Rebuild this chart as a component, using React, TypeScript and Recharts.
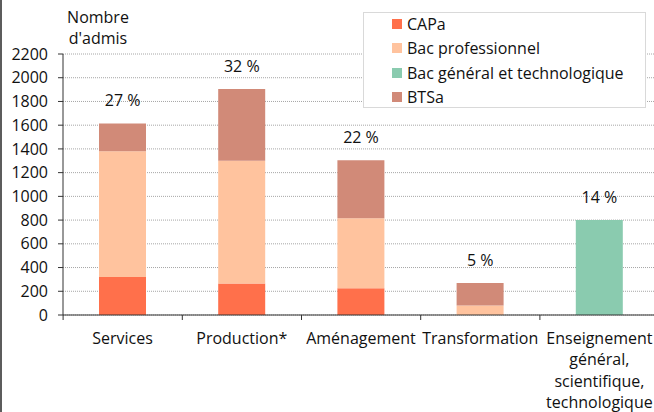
import {
  Bar,
  CartesianGrid,
  ComposedChart,
  LabelList,
  Line,
  XAxis,
  YAxis,
} from "recharts";

// Admis par secteur et par diplôme
const categories = [
  "Services",
  "Production*",
  "Aménagement",
  "Transformation",
  "Enseignement\ngénéral,\nscientifique,\ntechnologique",
];
const capa = [320, 265, 225, 0, 0];
const bacPro = [1060, 1035, 590, 80, 0];
const bacGen = [0, 0, 0, 0, 800];
const btsa = [235, 605, 490, 190, 0];
const shares = ["27 %", "32 %", "22 %", "5 %", "14 %"];
const yTicks = [0, 200, 400, 600, 800, 1000, 1200, 1400, 1600, 1800, 2000, 2200];

const series = [
  { key: "capa", name: "CAPa", color: "#ff704b" },
  { key: "bacPro", name: "Bac professionnel", color: "#ffc39e" },
  { key: "bacGen", name: "Bac général et technologique", color: "#8acbaf" },
  { key: "btsa", name: "BTSa", color: "#d18a78" },
];

const FONT = "'Open Sans', sans-serif";
const FS = 16;
const HALF_BAND = 59.5;

const data = categories.map((name, i) => ({
  name,
  capa: capa[i],
  bacPro: bacPro[i],
  bacGen: bacGen[i],
  btsa: btsa[i],
  total: capa[i] + bacPro[i] + bacGen[i] + btsa[i],
  share: shares[i],
}));

function CategoryTick({ x, y, payload, index }: any) {
  const lines = String(payload.value).split("\n");
  return (
    <g>
      <line x1={x - HALF_BAND} x2={x - HALF_BAND} y1={y - 8} y2={y - 3} stroke="#333" />
      {index === categories.length - 1 && (
        <line x1={x + HALF_BAND} x2={x + HALF_BAND} y1={y - 8} y2={y - 3} stroke="#333" />
      )}
      <text x={x} y={y} textAnchor="middle" fontFamily={FONT} fontSize={FS} fill="#111">
        {lines.map((l, k) => (
          <tspan key={k} x={x} dy={k === 0 ? 21 : 21.3}>
            {l}
          </tspan>
        ))}
      </text>
    </g>
  );
}

function LegendBox() {
  return (
    <div
      style={{
        position: "absolute",
        left: 363,
        top: 12,
        width: 281,
        height: 94,
        background: "#fff",
        border: "1px solid #d9d9d9",
        fontFamily: FONT,
        fontSize: FS,
        color: "#111",
      }}
    >
      <div style={{ position: "relative", top: -1 }}>
        {series.map((s) => (
          <div key={s.key} style={{ display: "flex", alignItems: "center", height: 24.3, paddingLeft: 28 }}>
            <span style={{ width: 10, height: 10, background: s.color, marginRight: 5, display: "inline-block" }} />
            <span>{s.name}</span>
          </div>
        ))}
      </div>
    </div>
  );
}

export default function App() {
  return (
    <div
      style={{
        position: "absolute",
        left: 0,
        top: 0,
        width: 654,
        height: 412,
        overflow: "hidden",
        background: "#fff",
      }}
    >
      <ComposedChart
        width={660}
        height={412}
        data={data}
        margin={{ top: 54, right: 1, bottom: 0, left: 0 }}
        barSize={47}
      >
        <CartesianGrid vertical={false} stroke="#a6a6a6" strokeDasharray="1 1" />
        <XAxis
          dataKey="name"
          height={97}
          interval={0}
          stroke="#333"
          tickLine={false}
          tick={<CategoryTick />}
        />
        <YAxis
          width={63}
          domain={[0, 2200]}
          ticks={yTicks}
          interval={0}
          stroke="#333"
          tickSize={5}
          tickMargin={10}
          tick={{ fontFamily: FONT, fontSize: FS, fill: "#111" }}
          label={{
            content: () => (
              <text textAnchor="middle" fontFamily={FONT} fontSize={FS} fill="#111">
                <tspan x={98} y={23}>Nombre</tspan>
                <tspan x={98} y={44}>d'admis</tspan>
              </text>
            ),
          }}
        />
        {series.map((s) => (
          <Bar
            key={s.key}
            dataKey={s.key}
            name={s.name}
            stackId="a"
            fill={s.color}
            isAnimationActive={false}
          />
        ))}
        <Line
          dataKey="total"
          stroke="none"
          dot={false}
          activeDot={false}
          legendType="none"
          isAnimationActive={false}
        >
          <LabelList
            dataKey="share"
            position="top"
            offset={17}
            fontFamily={FONT}
            fontSize={FS}
            fill="#111"
          />
        </Line>
      </ComposedChart>
      <LegendBox />
      <div style={{ position: "absolute", left: 0, top: 0, width: 2, height: 412, background: "#5c5c5c" }} />
    </div>
  );
}
